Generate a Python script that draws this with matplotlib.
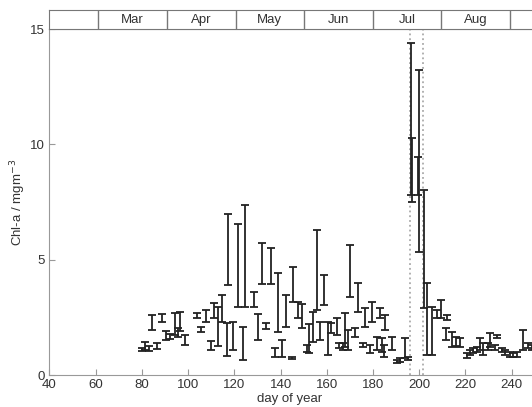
import numpy as np
import matplotlib.pyplot as plt

plt.rcParams['font.family'] = ['Liberation Sans', 'DejaVu Sans']

# error bars: day of year, lower and upper Chl-a
day = [80, 81.5, 83, 84.5, 86.5, 88.8, 90.4, 92.1, 94.3, 95.7, 96.5, 98.6,
       103.7, 105.4, 107.8, 109.8, 111.2, 112.8, 114.5, 116.9, 117.4, 119.5,
       121.7, 123.9, 124.6, 128.6, 130.4, 131.8, 133.7, 135.8, 137.6, 138.8,
       140.8, 142.4, 144.8, 145.5, 147.4, 149.1, 151.5, 152.4, 154.2, 155.6,
       157, 158.6, 160.6, 162, 164.3, 165.4, 166.9, 167.9, 169.3, 170,
       172.2, 173.6, 175.8, 176.5, 178.7, 179.6, 181.6, 182.8, 183.7, 184.9,
       185.2, 188.3, 190.5, 191.7, 193.8, 195.3, 196.3, 197, 199.3, 200,
       202, 203.2, 205.4, 207.8, 209.3, 211.6, 212.2, 214.3, 215.8, 217.6,
       220.5, 222, 223.4, 224.9, 226.3, 227.7, 229.9, 230.6, 232.8, 233.5,
       235.7, 237.1, 239.3, 240.7, 242.4, 245, 247.2, 248.7]
lo = [1.04, 1.08, 1.04, 1.95, 1.14, 2.31, 1.52, 1.55, 1.75, 1.66, 1.9, 1.3,
      2.46, 1.88, 2.28, 1.08, 2.45, 1.25, 2.31, 0.82, 3.9, 1.08,
      2.96, 0.65, 2.96, 2.96, 1.52, 3.95, 1.98, 3.95, 0.79, 1.88,
      0.79, 2.09, 0.68, 3.18, 2.46, 2.05, 1.0, 0.94, 1.44, 2.82,
      1.52, 3.03, 0.87, 1.81, 1.73, 1.16, 1.1, 1.23, 1.08, 3.4,
      1.66, 2.74, 1.23, 2.1, 0.94, 2.3, 1.08, 2.46, 1.01, 0.79,
      1.95, 1.08, 0.51, 0.58, 0.72, 0.65, 7.8, 7.51, 7.8, 5.35,
      2.89, 0.87, 0.87, 2.46, 2.46, 1.52, 2.38, 1.2, 1.25, 1.2,
      0.72, 0.87, 0.94, 1.01, 1.08, 0.87, 1.08, 1.23, 1.08, 1.59,
      1.01, 0.87, 0.79, 0.79, 0.79, 1.08, 1.16, 1.1]
hi = [1.18, 1.44, 1.25, 2.6, 1.37, 2.63, 1.92, 1.78, 2.7, 2.04, 2.72, 1.75,
      2.7, 2.09, 2.82, 1.48, 3.12, 2.96, 3.47, 2.24, 7.0, 2.31,
      6.55, 2.09, 7.35, 3.6, 2.64, 5.72, 2.24, 5.5, 1.16, 4.41,
      1.52, 3.47, 0.79, 4.7, 3.18, 3.1, 1.3, 2.2, 2.74, 6.28,
      2.31, 4.33, 2.31, 2.24, 2.46, 1.37, 1.37, 2.67, 1.95, 5.63,
      2.02, 3.97, 1.37, 2.9, 1.3, 3.18, 1.66, 2.9, 1.59, 1.3,
      2.6, 1.66, 0.65, 0.72, 1.59, 0.79, 14.38, 10.26, 9.46, 13.22,
      8.02, 3.97, 2.96, 2.82, 3.25, 2.02, 2.6, 1.85, 1.66, 1.59,
      0.97, 1.08, 1.16, 1.23, 1.59, 1.37, 1.37, 1.81, 1.3, 1.73,
      1.16, 1.08, 1.01, 0.94, 1.01, 1.95, 1.37, 1.3]

months = ['Mar', 'Apr', 'May', 'Jun', 'Jul', 'Aug']
month_edges = [61.1, 90.8, 120.6, 150.1, 179.9, 209.5, 239.3]
event_days = [196.0, 201.7]

day = np.array(day)
lo = np.array(lo)
hi = np.array(hi)
mid = (lo + hi) / 2
half = (hi - lo) / 2

fig = plt.figure(figsize=(5.32, 4.07), dpi=100)
ax = fig.add_axes([0.093, 0.0786, 0.907, 0.8501])

for d in event_days:
    ax.axvline(d, color='#aaaaaa', ls=':', lw=1.3, zorder=1)

ax.errorbar(day, mid, yerr=half, fmt='none', ecolor='#222222',
            elinewidth=1.3, capsize=3, capthick=1.3, zorder=3)

xmax = 40 + (532 - 49.5) / 2.311
ax.set_xlim(40, xmax)
ax.set_ylim(0, 15)
ax.set_xticks(np.arange(40, 241, 20))
ax.set_yticks([0, 5, 10, 15])
ax.tick_params(direction='in', length=4, colors='#999999', labelcolor='#333333',
               labelsize=9.5)
ax.tick_params(axis='x', pad=3)
ax.tick_params(axis='y', pad=3.5)
for s in ['left', 'bottom', 'top']:
    ax.spines[s].set_color('#999999')
ax.spines['right'].set_visible(False)
ax.set_xlabel('day of year', fontsize=9.5, color='#333333')
ax.xaxis.set_label_coords(0.498, -0.052)
ax.set_ylabel('Chl-a / mgm$^{-3}$', fontsize=9.5, color='#333333')
ax.yaxis.set_label_coords(-0.045, 0.5)

# month header strip
hx = fig.add_axes([0.093, 0.9287, 0.907, 19 / 407])
hx.set_xlim(40, xmax)
hx.set_ylim(0, 1)
hx.set_xticks([])
hx.set_yticks([])
for s in ['left', 'bottom', 'top']:
    hx.spines[s].set_color('#777777')
hx.spines['right'].set_visible(False)
for e in month_edges:
    hx.axvline(e, color='#777777', lw=1)
for i, m in enumerate(months):
    c = (month_edges[i] + month_edges[i + 1]) / 2
    hx.text(c, 0.45, m, ha='center', va='center', fontsize=9.5, color='#333333')

fig.savefig('out.png', dpi=100)
